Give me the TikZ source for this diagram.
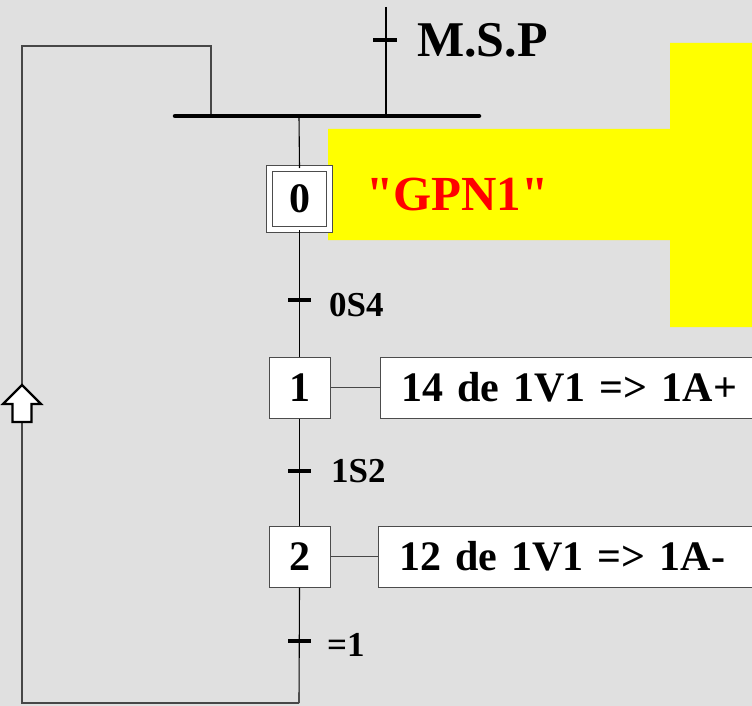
\documentclass[tikz,border=0pt]{standalone}
\usepackage{fontspec}
\setmainfont{Liberation Serif}
\newfontfamily\rawserif{Liberation Serif}
\definecolor{bg}{HTML}{E0E0E0}
\definecolor{ylw}{HTML}{FFFF00}
\definecolor{rd}{HTML}{FF0000}
\begin{document}
\begin{tikzpicture}[x=1pt,y=-1pt,
  every node/.style={font=\bfseries},
  link/.style={draw=black, line width=1.1pt},
  thin/.style={draw=black!72, line width=1.2pt},
  tick/.style={draw=black, line width=3.2pt},
  stepbox/.style={draw=black!70, fill=white, line width=1pt, minimum width=61, minimum height=61, inner sep=0pt, font=\bfseries\fontsize{42}{46}\selectfont},
  initstep/.style={draw=black!70, double=white, double distance=5.5pt, line width=1pt, fill=white, minimum width=60, minimum height=61, inner sep=0pt, font=\bfseries\fontsize{42}{46}\selectfont},
  action/.style={draw=black!70, fill=white, line width=1pt, anchor=west, minimum height=61, text width=380, inner xsep=21, inner ysep=0pt, align=left, font=\bfseries\fontsize{42}{46}\selectfont},
  trlabel/.style={anchor=base west, inner sep=0pt, font=\bfseries\fontsize{35}{40}\selectfont}
]
\fill[bg] (0,0) rectangle (752,706);
\useasboundingbox (0,0) rectangle (752,706);
\clip (0,0) rectangle (752,706);

% yellow comment shape
\fill[ylw] (328,129) -- (670,129) -- (670,43) -- (752,43) -- (752,327) -- (670,327) -- (670,240) -- (328,240) -- cycle;

% coordinates
\coordinate (barL) at (175,116);
\coordinate (barR) at (479,116);
\coordinate (barM) at (299,116);
\coordinate (barLoop) at (211,116);
\coordinate (mspTop) at (386,7);
\coordinate (mspBar) at (386,116);
\coordinate (tm) at (386,40);
\coordinate (t0) at (299,300);
\coordinate (t1) at (299,471);
\coordinate (t2) at (299,641);
\coordinate (bot) at (299,703);
\coordinate (botL) at (22,703);
\coordinate (topL) at (22,46);
\coordinate (topR) at (211,46);

% steps and actions
\node[initstep] (s0) at (299.5,199) {0};
\node[stepbox] (s1) at (299.5,387.5) {1};
\node[stepbox] (s2) at (299.5,556.5) {2};
\node[action] (a1) at (380,387.5) {14 de 1V1 => 1A+};
\node[action] (a2) at (378,556.5) {12 de 1V1 => 1A-};

% main links
\draw[link] (barM) -- (s0.north);
\draw[link] (s0.south) -- (s1.north);
\draw[link] (s1.south) -- (s2.north);
\draw[link] (s2.south) -- (bot);
\draw[link] (mspTop) -- (mspBar);
\draw[thin] (s1.east) -- (a1.west);
\draw[thin] (s2.east) -- (a2.west);

% loop back
\draw[thin] (bot) -- (botL) -- (topL) -- (topR) -- (barLoop);

% synchronisation bar
\draw[line width=4.5pt, line cap=round] (barL) -- (barR);

% transition ticks
\draw[tick] ([xshift=-13]tm) -- ([xshift=11]tm);
\draw[tick] ([xshift=-11]t0) -- ([xshift=12]t0);
\draw[tick] ([xshift=-11]t1) -- ([xshift=12]t1);
\draw[tick] ([xshift=-11]t2) -- ([xshift=12]t2);

% labels
\node[anchor=base west, inner sep=0pt, font=\bfseries\fontsize{50}{55}\selectfont] (msp) at (417,57) {M.S.P};
\node[anchor=base west, inner sep=0pt, text=rd, font=\rawserif\bfseries\fontsize{49}{54}\selectfont] (gpn) at (366,210) {"GPN1"};
\node[trlabel] (l0) at (329,316) {0S4};
\node[trlabel] (l1) at (331,482) {1S2};
\node[trlabel] (l2) at (327,656) {=1};

% direction arrow on loop
\draw[black, fill=white, line width=2.2pt] (22,385) -- (41,404) -- (31.5,404) -- (31.5,422) -- (12.5,422) -- (12.5,404) -- (3,404) -- cycle;
\end{tikzpicture}
\end{document}
